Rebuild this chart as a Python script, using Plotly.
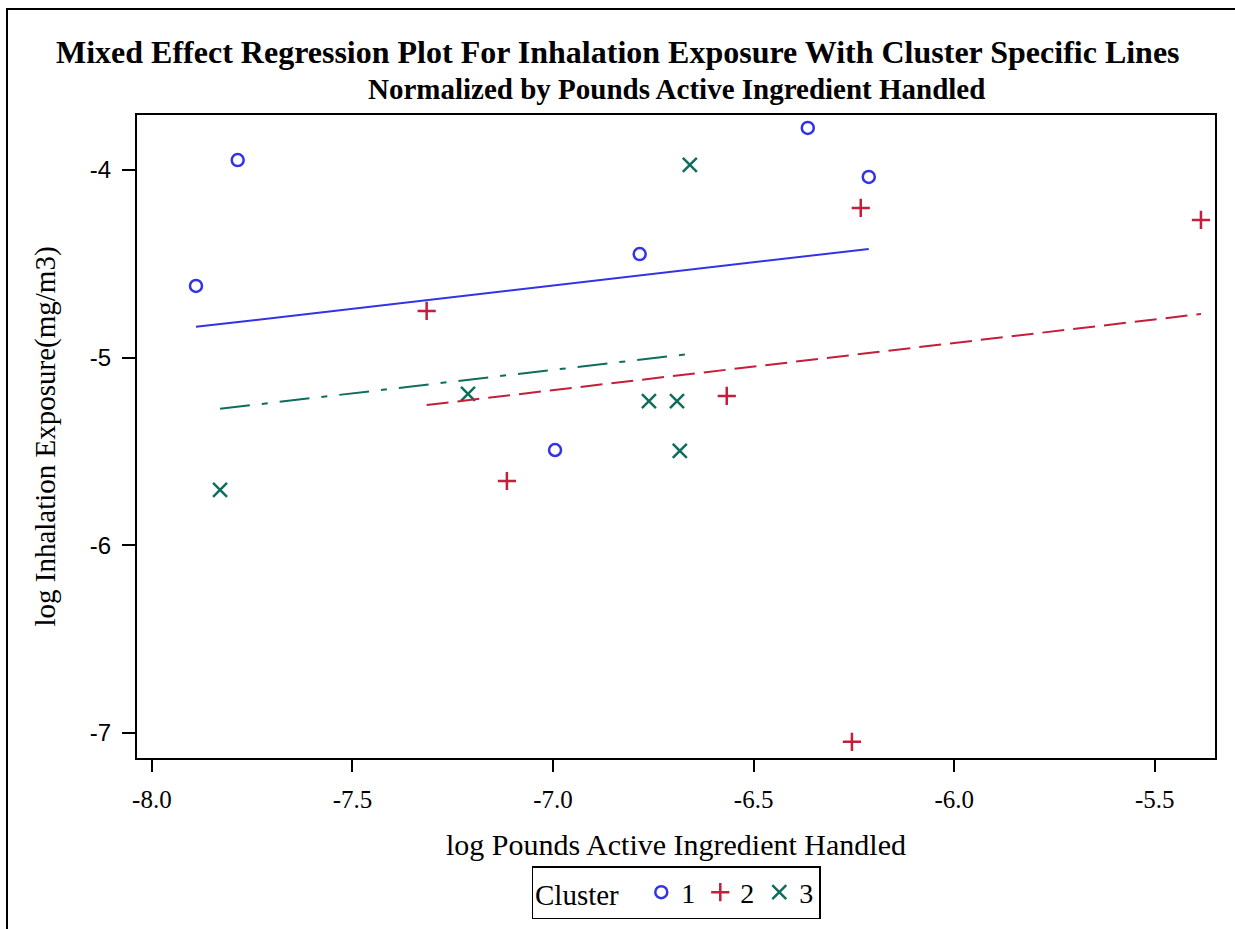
import plotly.graph_objects as go

# Observations per cluster: log pounds active ingredient handled (x), log inhalation exposure (y)
cluster1_x = [-7.89, -7.786, -6.784, -6.995, -6.365, -6.213]
cluster1_y = [-4.618, -3.947, -4.448, -5.492, -3.776, -4.037]

cluster2_x = [-7.315, -7.115, -6.567, -6.233, -5.385, -6.255]
cluster2_y = [-4.751, -5.657, -5.204, -4.202, -4.266, -7.047]

cluster3_x = [-7.83, -7.212, -6.761, -6.691, -6.684, -6.659]
cluster3_y = [-5.705, -5.193, -5.231, -5.231, -5.497, -3.973]

# Cluster-specific fitted lines from the mixed model: y = intercept + slope * x
cluster_names = ["1", "2", "3"]
intercepts = [-2.883, -3.414, -3.315]
slopes = [0.2475, 0.2513, 0.250]

colors = ["#3232E6", "#C41E3A", "#0E6E5E"]
symbols = ["circle-open", "cross-thin-open", "x-thin-open"]
marker_sizes = [12, 13, 14]
dashes = ["solid", "22px,9px", "30px,12px,6px,12px"]

xs = [cluster1_x, cluster2_x, cluster3_x]
ys = [cluster1_y, cluster2_y, cluster3_y]

fig = go.Figure()

for i in range(3):
    fig.add_trace(go.Scatter(
        x=xs[i], y=ys[i], mode="markers", name=cluster_names[i],
        marker=dict(symbol=symbols[i], size=marker_sizes[i], color=colors[i],
                    line=dict(width=2.5, color=colors[i])),
    ))

for i in range(3):
    x0, x1 = min(xs[i]), max(xs[i])
    fig.add_trace(go.Scatter(
        x=[x0, x1],
        y=[intercepts[i] + slopes[i] * x0, intercepts[i] + slopes[i] * x1],
        mode="lines", showlegend=False,
        line=dict(color=colors[i], width=2, dash=dashes[i]),
    ))

L, R, T, B = 137, 20, 115, 171
W, H = 1235, 929
pw, ph = W - L - R, H - T - B


def px_x(p):
    return (p - L) / pw


def px_y(p):
    return (H - B - p) / ph


serif = "Liberation Serif, Times New Roman, serif"
sans = "Liberation Sans, Arial, sans-serif"

fig.update_layout(
    width=W, height=H,
    margin=dict(l=L, r=R, t=T, b=B, autoexpand=False),
    paper_bgcolor="white", plot_bgcolor="white",
    font=dict(family=serif, color="black", size=22),
    showlegend=True,
    legend=dict(
        orientation="h", x=0.5, xanchor="center", y=px_y(866), yanchor="top",
        bordercolor="black", borderwidth=1.5,
        title=dict(text="Cluster  ", font=dict(family=serif, size=29)),
        font=dict(family=serif, size=28),
        itemwidth=30, tracegroupgap=0,
    ),
    annotations=[
        dict(text="<b>Mixed Effect Regression Plot For Inhalation Exposure With Cluster Specific Lines</b>",
             xref="paper", yref="paper", x=px_x(618), y=px_y(52),
             xanchor="center", yanchor="middle", showarrow=False,
             font=dict(family=serif, size=32, color="black")),
        dict(text="<b>Normalized by Pounds Active Ingredient Handled</b>",
             xref="paper", yref="paper", x=0.5, y=px_y(89),
             xanchor="center", yanchor="middle", showarrow=False,
             font=dict(family=serif, size=29, color="black")),
    ],
    shapes=[
        dict(type="rect", xref="paper", yref="paper",
             x0=px_x(7), x1=px_x(1260), y0=px_y(960), y1=px_y(9),
             line=dict(color="black", width=2), fillcolor="rgba(0,0,0,0)", layer="below"),
    ],
)

fig.update_xaxes(
    range=[-8.037, -5.35], tickvals=[-8.0, -7.5, -7.0, -6.5, -6.0, -5.5],
    ticktext=["-8.0", "-7.5", "-7.0", "-6.5", "-6.0", "-5.5"],
    showgrid=False, zeroline=False, showline=True, linecolor="black", linewidth=2,
    mirror=True, ticks="outside", ticklen=12, tickwidth=1.5, tickcolor="black",
    ticklabelstandoff=6, automargin=False,
    tickfont=dict(family=serif, size=25),
    title=dict(text="log Pounds Active Ingredient Handled", font=dict(family=serif, size=30), standoff=22),
)
fig.update_yaxes(
    range=[-7.133, -3.707], tickvals=[-7, -6, -5, -4],
    ticktext=["-7", "-6", "-5", "-4"],
    showgrid=False, zeroline=False, showline=True, linecolor="black", linewidth=2,
    mirror=True, ticks="outside", ticklen=13, tickwidth=1.5, tickcolor="black",
    ticklabelstandoff=6, automargin=False,
    tickfont=dict(family=sans, size=24),
    title=dict(text="log Inhalation Exposure(mg/m3)", font=dict(family=serif, size=29), standoff=26),
)

fig.write_html("out.html")
